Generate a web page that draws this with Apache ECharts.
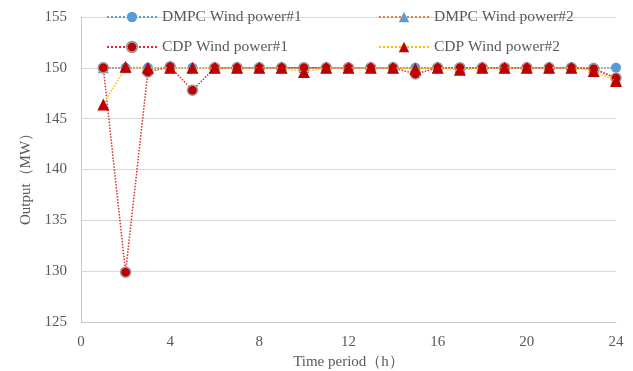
<!DOCTYPE html>
<html><head><meta charset="utf-8">
<script src="https://cdn.jsdelivr.net/npm/echarts@6/dist/echarts.min.js"></script>
<style>html,body{margin:0;padding:0;background:#fff}#c{width:633px;height:371px}</style>
</head><body><div id="c"></div>
<script>
var hours = [1,2,3,4,5,6,7,8,9,10,11,12,13,14,15,16,17,18,19,20,21,22,23,24];
var dmpc1 = [150,150,150,150,150,150,150,150,150,150,150,150,150,150,150,150,150,150,150,150,150,150,150,150];
var dmpc2 = [150,150,150,150,150,150,150,150,150,150,150,150,150,150,150,150,150,150,150,150,150,150,150,148.9];
var cdp1 = [150,129.9,149.6,150.1,147.8,150,150,150,150,150,150,150,150,150,149.4,150,150,150,150,150,150,150,149.9,149.0];
var cdp2 = [146.4,150.1,150,150,150,150,150,150,150,149.6,150,150,150,150,149.9,150,149.8,150,150,150,150,150,149.7,148.7];
var xTicks = [0,4,8,12,16,20,24];
var yTicks = [125,130,135,140,145,150,155];
var names = ['DMPC Wind power#1','DMPC Wind power#2','CDP Wind power#1','CDP Wind power#2'];

function pairs(v){ return hours.map(function(h,i){ return [h, v[i]]; }); }
var font = 'Liberation Serif';
var txt = {color:'#595959', fontFamily:font, fontSize:15};
function leg(name, left, top){
  return {data:[name], left:left, top:top, itemWidth:50, itemHeight:13, itemGap:0,
    textStyle:{color:'#595959', fontFamily:font, fontSize:15.5}, padding:0};
}
var chart = echarts.init(document.getElementById('c'));
chart.setOption({
  animation:false,
  backgroundColor:'#fff',
  legend:[leg(names[0],106,9), leg(names[1],378,9), leg(names[2],106,39), leg(names[3],378,39)],
  grid:{left:81, right:17, top:17, bottom:49, containLabel:false, outerBoundsMode:'none'},
  xAxis:{type:'value', min:xTicks[0], max:xTicks[xTicks.length-1], interval:4,
    name:'Time period（h）', nameLocation:'middle', nameGap:29, nameTextStyle:txt,
    axisLine:{show:true, lineStyle:{color:'#c8c8c8'}}, axisTick:{show:false},
    axisLabel:Object.assign({margin:13}, txt), splitLine:{show:false}},
  yAxis:{type:'value', min:yTicks[0], max:yTicks[yTicks.length-1], interval:5,
    name:'Output（MW）', nameLocation:'middle', nameGap:43,
    nameTextStyle:Object.assign({padding:[0,12,0,0]}, txt),
    axisLine:{show:true, lineStyle:{color:'#c8c8c8'}}, axisTick:{show:false},
    axisLabel:Object.assign({margin:14}, txt), splitLine:{show:true, lineStyle:{color:'#d9d9d9'}}},
  series:[
    {name:names[0], type:'line', data:pairs(dmpc1), symbol:'circle', symbolSize:10,
     itemStyle:{color:'#5B9BD5'}, lineStyle:{color:'#5B9BD5', type:'dotted', width:1.5}, z:2},
    {name:names[1], type:'line', data:pairs(dmpc2), symbol:'triangle', symbolSize:11,
     itemStyle:{color:'#5B9BD5'}, lineStyle:{color:'#ED7D31', type:'dotted', width:1.5}, z:3},
    {name:names[2], type:'line', data:pairs(cdp1), symbol:'circle', symbolSize:10,
     itemStyle:{color:'#C00000', borderColor:'#9a9a9a', borderWidth:1.5}, lineStyle:{color:'#E0282E', type:'dotted', width:1.5}, z:4},
    {name:names[3], type:'line', data:pairs(cdp2), symbol:'triangle', symbolSize:12,
     itemStyle:{color:'#C00000'}, lineStyle:{color:'#FFC000', type:'dotted', width:1.5}, z:5}
  ]
});
</script></body></html>
